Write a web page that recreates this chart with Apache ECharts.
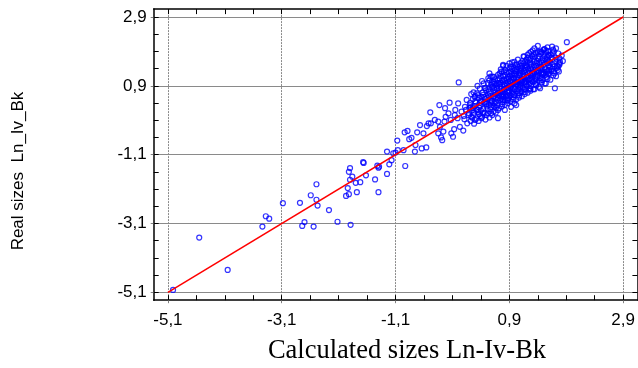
<!DOCTYPE html>
<html>
<head>
<meta charset="utf-8">
<script src="https://cdn.jsdelivr.net/npm/echarts@6/dist/echarts.min.js"></script>
<style>
  html, body { margin: 0; padding: 0; background: #fff; }
  #chart { width: 638px; height: 368px; }
</style>
</head>
<body>
<div id="chart"></div>
<script>
// Tick positions (labelled majors, unlabelled minors every 0.5)
const majorTicks = [-5.1, -3.1, -1.1, 0.9, 2.9];
const minorTicks = [-5.1, -4.6, -4.1, -3.6, -3.1, -2.6, -2.1, -1.6, -1.1, -0.6, -0.1, 0.4, 0.9, 1.4, 1.9, 2.4, 2.9];

// Reference line: real = calculated
const fitLine = [[-5.1, -5.1], [2.9, 2.9]];

// Observations [calculated, real] — sparse lower tail
const tailPoints = [
  [-5.01, -5.03], [-4.55, -3.51], [-4.05, -4.45], [-3.44, -3.19], [-3.38, -2.89], [-3.32, -2.96],
  [-3.08, -2.51], [-2.78, -2.50], [-2.74, -3.17], [-2.70, -3.06], [-2.59, -2.28], [-2.54, -3.19],
  [-2.49, -1.96], [-2.49, -2.41], [-2.47, -2.58], [-2.27, -2.71], [-2.12, -3.05], [-1.97, -2.30],
  [-1.94, -2.07], [-1.92, -2.25], [-1.92, -1.60], [-1.90, -1.49], [-1.90, -1.83], [-1.89, -3.14],
  [-1.86, -1.74], [-1.80, -1.92], [-1.78, -2.19], [-1.72, -1.90], [-1.67, -1.32], [-1.66, -1.34],
  [-1.62, -1.70], [-1.46, -1.82], [-1.42, -1.42], [-1.40, -1.48], [-1.40, -2.19], [-1.39, -1.45],
  [-1.25, -1.66], [-1.25, -1.01], [-1.21, -1.38], [-1.17, -1.26], [-1.14, -1.06], [-1.10, -1.04]
];

// Observations — middle band
const midPoints = [
  [-1.07, -0.69], [-1.06, -0.97], [-0.96, -0.97], [-0.94, -0.45], [-0.89, -0.41], [-0.93, -1.43],
  [-0.86, -0.65], [-0.82, -0.61], [-0.72, -0.45], [-0.76, -1.01], [-0.75, -0.82], [-0.67, -0.24],
  [-0.64, -0.92], [-0.61, -0.48], [-0.56, -0.89], [-0.55, -0.27], [-0.52, -0.19], [-0.49, 0.13],
  [-0.48, -0.19], [-0.41, -0.09], [-0.35, -0.14], [-0.35, -0.48], [-0.33, 0.34], [-0.32, -0.29],
  [-0.30, -0.60], [-0.28, -0.68], [-0.26, -0.43], [-0.24, -0.14], [-0.23, 0.25], [-0.22, 0.00],
  [-0.17, 0.10], [-0.15, 0.41], [-0.13, -0.09], [-0.12, -0.48], [-0.09, -0.58], [-0.07, -0.36],
  [-0.06, 0.05], [-0.05, 0.20], [-0.01, -0.04], [0.00, 0.39], [0.03, -0.29], [0.06, 0.15],
  [0.09, -0.40], [0.11, -0.07], [0.12, 0.29], [0.15, 0.49], [0.16, -0.19], [0.19, 0.10],
  [0.21, 0.34], [0.23, 0.00], [0.26, 0.25], [0.29, 0.58], [0.30, -0.09],
  [0.18, 0.05], [0.22, 0.28], [0.32, 0.22], [0.36, -0.12], [0.44, 0.10], [0.48, -0.08],
  [0.52, 0.22], [0.60, 0.05], [0.62, 0.32], [0.66, 0.12], [0.28, -0.20], [0.14, 0.20],
  [0.10, 0.02], [0.38, 0.40], [0.55, -0.02]
];

// Observations — outer rim of the main cluster
const rimPoints = [
  [0.01, 1.00], [0.41, -0.04], [0.50, 0.05], [0.70, -0.04], [0.58, 0.10], [0.35, 0.63],
  [0.55, 1.26], [0.57, 1.17], [0.79, 1.48], [0.76, 1.31], [0.64, 0.97], [0.47, 0.83],
  [0.41, 0.58], [0.51, 0.44], [0.64, 0.29], [0.79, 0.49], [0.82, 0.20],
  [1.91, 2.17], [1.40, 2.06], [1.57, 2.02], [1.65, 2.04], [1.72, 1.99], [1.78, 1.70],
  [1.76, 1.46], [1.70, 0.83], [1.69, 1.26], [1.75, 1.36], [1.60, 1.36], [1.51, 1.26],
  [1.54, 0.97], [1.44, 0.83], [1.34, 0.80], [1.25, 0.80], [1.11, 0.73], [1.02, 0.34],
  [0.93, 0.29], [0.79, 0.58], [0.82, 0.49], [0.79, 1.51], [0.90, 1.55], [0.99, 1.60],
  [1.22, 1.80], [1.28, 1.89], [1.16, 1.75], [1.45, 1.89], [1.51, 1.96], [1.66, 1.85],
  [1.34, 1.99], [1.78, 1.51], [0.99, 0.39], [0.70, 0.20], [0.87, 0.49]
];

// Observations — dense core of the cluster
const corePoints = [
  [0.22, -0.12], [0.27, 0.05], [0.24, 0.18], [0.29, 0.31], [0.21, 0.40], [0.26, 0.52], [0.23, 0.66], [0.28, 0.12], [0.25, -0.03], [0.30, 0.45], [0.20, 0.25], [0.27, 0.71],
  [0.32, -0.05], [0.37, 0.08], [0.34, 0.20], [0.39, 0.33], [0.31, 0.41], [0.36, 0.55], [0.33, 0.68], [0.38, 0.82], [0.35, 0.14], [0.40, 0.47], [0.30, 0.60], [0.37, 0.27], [0.34, 0.90], [0.39, 0.02],
  [0.42, 0.00], [0.47, 0.12], [0.44, 0.24], [0.49, 0.37], [0.41, 0.45], [0.46, 0.58], [0.43, 0.70], [0.48, 0.84], [0.45, 0.97], [0.50, 0.30], [0.40, 0.18], [0.47, 0.52], [0.44, 0.64], [0.49, 0.77], [0.42, 1.04], [0.46, 0.41],
  [0.52, 0.10], [0.57, 0.22], [0.54, 0.34], [0.59, 0.46], [0.51, 0.55], [0.56, 0.68], [0.53, 0.80], [0.58, 0.93], [0.55, 1.06], [0.60, 1.17], [0.50, 0.38], [0.57, 0.60], [0.54, 0.73], [0.59, 0.86], [0.52, 0.98], [0.56, 0.49], [0.58, 0.28], [0.53, 1.12],
  [0.62, 0.15], [0.67, 0.27], [0.64, 0.39], [0.69, 0.50], [0.61, 0.60], [0.66, 0.72], [0.63, 0.84], [0.68, 0.97], [0.65, 1.09], [0.70, 1.22], [0.60, 0.45], [0.67, 0.65], [0.64, 0.78], [0.69, 0.90], [0.62, 1.02], [0.66, 0.55], [0.68, 0.33], [0.63, 1.16], [0.70, 0.70], [0.61, 0.88],
  [0.72, 0.25], [0.77, 0.37], [0.74, 0.48], [0.79, 0.60], [0.71, 0.70], [0.76, 0.82], [0.73, 0.94], [0.78, 1.06], [0.75, 1.19], [0.80, 1.31], [0.70, 0.55], [0.77, 0.75], [0.74, 0.88], [0.79, 1.00], [0.72, 1.12], [0.76, 0.64], [0.78, 0.43], [0.73, 1.26], [0.80, 0.80], [0.71, 0.98], [0.75, 1.38], [0.77, 0.30],
  [0.82, 0.35], [0.87, 0.47], [0.84, 0.58], [0.89, 0.70], [0.81, 0.80], [0.86, 0.92], [0.83, 1.04], [0.88, 1.16], [0.85, 1.29], [0.90, 1.41], [0.80, 0.65], [0.87, 0.85], [0.84, 0.98], [0.89, 1.10], [0.82, 1.22], [0.86, 0.74], [0.88, 0.53], [0.83, 1.36], [0.90, 0.90], [0.81, 1.08], [0.85, 1.48], [0.87, 0.40],
  [0.92, 0.45], [0.97, 0.57], [0.94, 0.68], [0.99, 0.80], [0.91, 0.90], [0.96, 1.02], [0.93, 1.14], [0.98, 1.26], [0.95, 1.39], [1.00, 1.51], [0.90, 0.75], [0.97, 0.95], [0.94, 1.08], [0.99, 1.20], [0.92, 1.32], [0.96, 0.84], [0.98, 0.63], [0.93, 1.46], [1.00, 1.00], [0.91, 1.18], [0.95, 1.58], [0.97, 0.50], [0.93, 0.88], [0.99, 1.34],
  [1.02, 0.50], [1.07, 0.62], [1.04, 0.74], [1.09, 0.86], [1.01, 0.96], [1.06, 1.08], [1.03, 1.20], [1.08, 1.32], [1.05, 1.45], [1.10, 1.57], [1.00, 0.81], [1.07, 1.01], [1.04, 1.14], [1.09, 1.26], [1.02, 1.38], [1.06, 0.90], [1.08, 0.69], [1.03, 1.52], [1.10, 1.06], [1.01, 1.24], [1.05, 1.66], [1.07, 0.56], [1.03, 0.94], [1.09, 1.40],
  [1.12, 0.60], [1.17, 0.72], [1.14, 0.84], [1.19, 0.96], [1.11, 1.06], [1.16, 1.18], [1.13, 1.30], [1.18, 1.42], [1.15, 1.55], [1.20, 1.67], [1.10, 0.91], [1.17, 1.11], [1.14, 1.24], [1.19, 1.36], [1.12, 1.48], [1.16, 1.00], [1.18, 0.79], [1.13, 1.62], [1.20, 1.16], [1.11, 1.34], [1.15, 1.76], [1.17, 0.66], [1.13, 1.04], [1.19, 1.50],
  [1.22, 0.70], [1.27, 0.82], [1.24, 0.94], [1.29, 1.06], [1.21, 1.16], [1.26, 1.28], [1.23, 1.40], [1.28, 1.52], [1.25, 1.65], [1.30, 1.77], [1.20, 1.01], [1.27, 1.21], [1.24, 1.34], [1.29, 1.46], [1.22, 1.58], [1.26, 1.10], [1.28, 0.89], [1.23, 1.72], [1.30, 1.26], [1.21, 1.44], [1.25, 1.85], [1.27, 0.76],
  [1.32, 0.80], [1.37, 0.92], [1.34, 1.04], [1.39, 1.16], [1.31, 1.26], [1.36, 1.38], [1.33, 1.50], [1.38, 1.62], [1.35, 1.75], [1.40, 1.87], [1.30, 1.11], [1.37, 1.31], [1.34, 1.44], [1.39, 1.56], [1.32, 1.68], [1.36, 1.20], [1.38, 0.99], [1.33, 1.82], [1.40, 1.36], [1.31, 1.93],
  [1.42, 0.87], [1.47, 1.00], [1.44, 1.12], [1.49, 1.24], [1.41, 1.34], [1.46, 1.46], [1.43, 1.58], [1.48, 1.70], [1.45, 1.83], [1.50, 1.94], [1.40, 1.19], [1.47, 1.39], [1.44, 1.52], [1.49, 1.64], [1.42, 1.76], [1.46, 1.28], [1.48, 1.07], [1.43, 1.90],
  [1.52, 0.97], [1.57, 1.10], [1.54, 1.22], [1.59, 1.34], [1.51, 1.44], [1.56, 1.56], [1.53, 1.68], [1.58, 1.80], [1.55, 1.92], [1.60, 1.50], [1.50, 1.29], [1.57, 1.74], [1.54, 1.86], [1.59, 1.62], [1.52, 1.97], [1.56, 1.16],
  [1.62, 1.08], [1.67, 1.20], [1.64, 1.33], [1.69, 1.46], [1.61, 1.56], [1.66, 1.68], [1.63, 1.80], [1.68, 1.90], [1.65, 1.40], [1.70, 1.62], [1.60, 1.25], [1.67, 1.95],
  [1.72, 1.18], [1.77, 1.32], [1.74, 1.48], [1.79, 1.60], [1.71, 1.72], [1.76, 1.84], [1.73, 1.41], [1.78, 1.55]
];

// Observations — extra core points filling the band around the diagonal
const coreFill = [
  [0.63, 0.58], [0.68, 0.81], [0.72, 0.61], [0.74, 0.99], [0.78, 0.72], [0.81, 0.93], [0.83, 0.67], [0.86, 1.11],
  [0.88, 0.83], [0.91, 1.03], [0.92, 0.62], [0.94, 1.24], [0.96, 0.73], [0.98, 1.12], [1.01, 0.88], [1.02, 1.31],
  [1.04, 1.02], [1.06, 0.79], [1.08, 1.21], [1.10, 0.97], [1.11, 1.41], [1.13, 0.87], [1.14, 1.15], [1.16, 1.33],
  [1.18, 1.06], [1.20, 1.49], [1.21, 0.90], [1.23, 1.27], [1.24, 1.07], [1.26, 1.55], [1.28, 1.20], [1.29, 1.38],
  [1.31, 1.02], [1.33, 1.29], [1.34, 1.61], [1.36, 1.10], [1.38, 1.47], [1.39, 1.27], [1.41, 1.68], [1.43, 1.05],
  [1.44, 1.42], [1.46, 1.60], [1.48, 1.22], [1.50, 1.52], [1.52, 1.76], [1.54, 1.38], [1.56, 1.66], [1.58, 1.26],
  [1.60, 1.78], [1.62, 1.45], [1.64, 1.72], [1.66, 1.52], [1.58, 1.91], [1.47, 1.87], [1.36, 1.85], [1.27, 1.69],
  [1.18, 1.60], [1.09, 1.49], [0.99, 1.42], [0.89, 1.30], [0.79, 1.18], [0.69, 1.06], [0.59, 0.98], [0.53, 0.63],
  [0.57, 0.41], [0.66, 0.44], [0.76, 0.53], [0.86, 0.62], [0.96, 0.66], [1.06, 0.68], [1.16, 0.80], [1.26, 0.98],
  [1.36, 0.95], [1.46, 1.13], [1.56, 1.31], [1.68, 1.33], [1.73, 1.67], [1.82, 1.78], [1.84, 1.62]
];

const observations = [].concat(tailPoints, midPoints, rimPoints, corePoints, coreFill);

const AXIS_MIN_X = -5.35, AXIS_MAX_X = 3.15;
const AXIS_MIN_Y = -5.33, AXIS_MAX_Y = 3.13;
const commaFmt = v => String(Math.round(v * 10) / 10).replace('.', ',');
const labelFont = { fontSize: 17, color: '#000', fontFamily: '"Liberation Sans", Arial, sans-serif' };
const frameLine = { show: true, onZero: false, lineStyle: { color: '#000', width: 1.5 } };

function mainAxis(min, max, position, gridType, margin) {
  return {
    type: 'value', min, max, position,
    axisLine: frameLine,
    axisTick: { show: true, customValues: majorTicks, inside: false, length: 3, lineStyle: { color: '#808080' } },
    axisLabel: Object.assign({ customValues: majorTicks, formatter: commaFmt, margin }, labelFont),
    splitLine: { show: true, lineStyle: { color: '#8a8a8a', width: 1, type: gridType } }
  };
}
function minorAxis(min, max, position, withLine) {
  return {
    type: 'value', min, max, position,
    axisLine: withLine ? frameLine : { show: false, onZero: false },
    axisTick: { show: true, customValues: minorTicks, inside: true, length: 5, lineStyle: { color: '#000' } },
    axisLabel: { show: false },
    splitLine: { show: false }
  };
}

const chart = echarts.init(document.getElementById('chart'), null, { renderer: 'canvas' });
chart.setOption({
  animation: false,
  backgroundColor: '#fff',
  grid: { left: 153.7, top: 9.1, width: 486.6, height: 291.1, containLabel: false },
  xAxis: [
    mainAxis(AXIS_MIN_X, AXIS_MAX_X, 'bottom', [2, 1], 12),
    minorAxis(AXIS_MIN_X, AXIS_MAX_X, 'bottom', false),
    minorAxis(AXIS_MIN_X, AXIS_MAX_X, 'top', true)
  ],
  yAxis: [
    mainAxis(AXIS_MIN_Y, AXIS_MAX_Y, 'left', 'solid', 7),
    minorAxis(AXIS_MIN_Y, AXIS_MAX_Y, 'left', false),
    minorAxis(AXIS_MIN_Y, AXIS_MAX_Y, 'right', true)
  ],
  series: [
    {
      type: 'scatter',
      xAxisIndex: 0, yAxisIndex: 0,
      data: observations,
      symbol: 'circle',
      symbolSize: 5,
      itemStyle: { color: 'rgba(0,0,0,0)', borderColor: '#0000ff', borderWidth: 1.2 },
      z: 2
    },
    {
      type: 'line',
      xAxisIndex: 0, yAxisIndex: 0,
      data: fitLine,
      symbol: 'none',
      lineStyle: { color: '#ff0000', width: 1.5 },
      z: 3
    }
  ],
  graphic: [
    {
      type: 'text', x: 407, y: 351,
      style: { text: 'Calculated sizes Ln-Iv-Bk', font: '26.5px "Liberation Serif", "Times New Roman", serif', fill: '#000', align: 'center', verticalAlign: 'middle' }
    },
    {
      type: 'text', x: 18, y: 171, rotation: Math.PI / 2,
      style: { text: 'Real sizes  Ln_Iv_Bk', font: '17px "Liberation Sans", Arial, sans-serif', fill: '#000', align: 'center', verticalAlign: 'middle' }
    }
  ]
});
</script>
</body>
</html>
